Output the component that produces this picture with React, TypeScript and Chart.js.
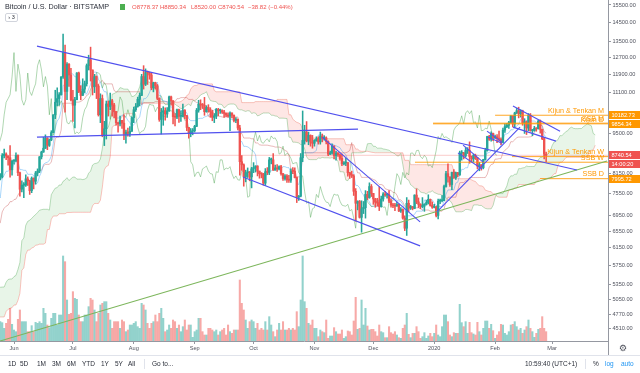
import React, { useEffect, useRef } from 'react';
import { Chart, registerables } from 'chart.js';

Chart.register(...registerables);

const FONT = '"Liberation Sans", Arial, Helvetica, sans-serif';

// ---- Daily candles, BTC/USD Bitstamp: [high, low, close] ----
// look-back days (only used for the Ichimoku windows, left of the visible range)
const mar19 = [
  [3960,3870,3920],[3930,3880,3905],[3920,3850,3870],[3900,3830,3880],[3890,3840,3860],
  [3900,3820,3865],[3930,3860,3915],[4060,3910,4010],[4010,3950,3975],[4030,3950,3980],
  [4030,3970,4015],[4060,3990,4040],[4080,3950,3985],[4010,3970,3995],[4020,3985,4000],
  [4005,3960,3980],[3990,3880,3920],[3950,3900,3940],[4080,3930,4070],[4080,4030,4050],
  [4140,4040,4120],[4150,4080,4110],[4120,4080,4100],
];
const apr19 = [
  [4150,4080,4140],[4950,4130,4880],[5300,4790,4970],[5050,4800,4910],[5060,4900,5030],
  [5220,4980,5050],[5260,5050,5200],[5330,5140,5280],[5280,5160,5190],[5470,5180,5320],
  [5330,4990,5040],[5100,4920,5060],[5130,5040,5070],[5180,5030,5150],[5200,4990,5020],
  [5240,5010,5220],[5280,5200,5240],[5320,5230,5290],[5340,5220,5280],[5350,5270,5320],
  [5330,5200,5260],[5440,5240,5380],[5610,5370,5520],[5620,5380,5420],[5500,5000,5130],
  [5450,5060,5180],[5220,5150,5190],[5220,5140,5170],[5200,5100,5150],[5330,5130,5300],
];
const may19early = [
  [5390,5290,5350],[5480,5340,5460],[5820,5450,5740],[5900,5510,5830],[5830,5630,5740],
  [5750,5580,5700],[6000,5700,5850],[6000,5720,5960],[6170,5950,6150],[6450,6130,6350],
  [7400,6350,7250],[7500,6700,6970],[8100,6900,7800],[8300,7620,7980],[8250,7880,8200],
  [8380,7700,7880],[7950,6600,7350],[7500,7200,7260],[8260,7250,8180],[8200,7600,7960],
  [8040,7830,7950],[8020,7520,7630],[7950,7500,7880],[8150,7820,7990],
];
// visible days (May 25, 2019 -> Feb 27, 2020)
const may19 = [
  [8150,7960,8050],[8800,8020,8730],[8950,8650,8780],[8820,8600,8720],[8720,8420,8660],
  [9070,8040,8270],[8580,8100,8550],
];
const jun19 = [
  [8600,8450,8560],[8820,8530,8740],[8760,8090,8180],[8200,7480,7680],[7930,7600,7800],
  [7880,7440,7800],[8110,7760,7990],[8050,7790,7930],[7950,7530,7640],[8050,7580,8010],
  [8020,7690,7920],[8220,7830,8170],[8300,8080,8230],[8700,8180,8690],[8880,8620,8850],
  [9360,8840,8980],[9450,8970,9330],[9350,8930,9080],[9300,9040,9270],[9600,9240,9530],
  [10200,9530,10200],[11200,10050,10700],[11300,10550,10850],[11100,10580,11010],[11800,10990,11780],
  [13880,11720,12930],[13300,10300,11150],[12450,10800,12370],[12400,11370,11870],[12180,10750,10800],
];
const jul19 = [
  [11200,9950,10580],[10900,9700,10800],[11980,10800,11960],[12000,11100,11150],[11400,10800,10980],
  [11700,10980,11250],[11600,11100,11480],[12380,11380,12300],[12800,12100,12580],[13200,11600,12100],
  [12100,11000,11350],[11900,11100,11800],[11830,10850,11380],[11450,10150,10200],[11050,9900,10850],
  [11000,9380,9430],[9950,9070,9670],[10750,9300,10630],[10750,10150,10530],[11080,10400,10760],
  [10820,10150,10590],[10660,10080,10330],[10330,9800,9900],[9900,9550,9850],[10150,9780,9990],
  [9990,9680,9880],[10200,9280,9480],[9620,9150,9550],[9700,9400,9500],[9750,9390,9580],
  [10120,9570,10090],
];
const aug19 = [
  [10500,9900,10400],[10650,10330,10530],[10910,10500,10820],[11080,10550,10980],[11900,10970,11800],
  [12300,11250,11460],[12150,11400,11980],[12050,11450,11970],[12000,11680,11870],[11950,11220,11300],
  [11550,11130,11530],[11550,11250,11390],[11450,10800,10860],[10880,9950,10020],[10450,9480,10300],
  [10520,9800,10360],[10470,9990,10230],[10480,10100,10350],[10950,10330,10920],[10950,10580,10760],
  [10770,9850,10130],[10250,9780,10110],[10420,10050,10400],[10420,9910,10140],[10350,9950,10140],
  [10620,10120,10370],[10400,10050,10170],[10180,9600,9720],[9720,9330,9490],[9680,9380,9580],
  [9680,9450,9600],
];
const sep19 = [
  [9800,9550,9760],[10450,9750,10380],[10780,10300,10620],[10800,10400,10590],[10650,10450,10580],
  [10900,10180,10320],[10560,10300,10490],[10600,10300,10400],[10480,10100,10320],[10380,9970,10100],
  [10250,9900,10160],[10450,10050,10410],[10450,10170,10360],[10420,10250,10360],[10390,10250,10310],
  [10370,10100,10260],[10280,10130,10190],[10280,10110,10150],[10320,9600,10270],[10280,10080,10180],
  [10200,9930,9980],[10090,9900,10030],[10030,9630,9700],[9800,8100,8530],[8730,8250,8430],
  [8460,7770,8060],[8260,7900,8180],[8330,8030,8200],[8220,7930,8050],[8350,7720,8300],
];
const oct19 = [
  [8500,8180,8340],[8400,8200,8390],[8400,8080,8230],[8230,8010,8150],[8180,8020,8140],
  [8160,7800,7860],[8310,7790,8210],[8340,8120,8190],[8670,8120,8590],[8650,8460,8590],
  [8800,8250,8260],[8420,8260,8330],[8440,8220,8300],[8400,8270,8370],[8410,8100,8150],
  [8160,7940,8000],[8120,7950,8080],[8120,7880,7960],[8100,7880,7950],[8300,7880,8230],
  [8340,8150,8220],[8330,8020,8030],[8050,7300,7450],[7500,7360,7480],[8800,7460,8660],
  [10350,8530,9250],[9800,9120,9550],[9940,9200,9230],[9550,9100,9430],[9450,9050,9190],
  [9430,8980,9150],
];
const nov19 = [
  [9280,9050,9250],[9380,9220,9310],[9380,9120,9200],[9550,9120,9410],[9480,9200,9320],
  [9420,9260,9340],[9380,9130,9210],[9240,8730,8780],[8880,8760,8820],[9120,8780,9050],
  [9070,8620,8730],[8870,8580,8810],[8830,8700,8760],[8790,8580,8640],[8780,8400,8460],
  [8530,8430,8490],[8650,8400,8500],[8500,8070,8180],[8190,8000,8120],[8230,8030,8080],
  [8120,7500,7620],[7700,6800,7280],[7350,7100,7330],[7360,6880,6900],[7350,6520,7130],
  [7330,7000,7160],[7640,6880,7530],[7620,7380,7440],[7870,7420,7760],[7820,7470,7560],
];
const dec19 = [
  [7560,7250,7400],[7420,7170,7310],[7420,7200,7300],[7750,7080,7190],[7480,7170,7400],
  [7580,7340,7540],[7620,7480,7510],[7560,7420,7520],[7640,7300,7340],[7400,7170,7230],
  [7280,7160,7210],[7280,7080,7200],[7310,7200,7250],[7260,7050,7070],[7160,7030,7110],
  [7130,6850,6880],[6940,6560,6620],[7440,6440,7280],[7370,7050,7150],[7220,7110,7190],
  [7190,7100,7140],[7520,7130,7510],[7690,7270,7320],[7430,7160,7250],[7270,7130,7190],
  [7440,7160,7200],[7270,7060,7250],[7360,7230,7300],[7520,7260,7390],[7400,7200,7220],
  [7320,7140,7170],
];
const jan20 = [
  [7250,7150,7180],[7200,6910,6950],[7400,6860,7340],[7400,7270,7350],[7500,7320,7350],
  [7800,7350,7760],[8220,7740,8150],[8460,7890,8050],[8050,7760,7820],[8200,7670,8190],
  [8280,8000,8020],[8200,7970,8180],[8190,8060,8110],[8880,8100,8810],[8900,8580,8820],
  [8840,8620,8720],[9000,8680,8900],[9000,8800,8910],[9200,8480,8700],[8720,8520,8630],
  [8780,8520,8740],[8780,8600,8660],[8660,8300,8390],[8510,8240,8430],[8440,8260,8340],
  [8610,8300,8600],[8980,8580,8900],[9400,8880,9390],[9430,9250,9290],[9560,9220,9500],
  [9510,9240,9350],
];
const feb20 = [
  [9440,9310,9380],[9460,9170,9330],[9590,9220,9290],[9340,9100,9180],[9700,9160,9620],
  [9850,9540,9750],[9870,9710,9800],[9950,9680,9900],[10170,9890,10160],[10150,9740,9850],
  [10300,9720,10270],[10460,10250,10360],[10500,10080,10240],[10400,10110,10360],[10380,9800,9900],
  [10050,9500,9930],[9960,9460,9700],[10250,9600,10180],[10250,9580,9600],[9650,9420,9610],
  [9760,9580,9690],[9700,9580,9670],[9990,9660,9960],[10000,9510,9650],[9660,9280,9310],
  [9360,8620,8778.37],[8850.34,8520,8740.54],
];
const firstOpen = 3930;

// daily volume of the visible days (relative units)
const volume = [
  58,55,38,53,65,98,50,33,28,65, 93,58,58,58,28,28,46,28,56,53,
  58,53,98,83,48,40,68,83,83,48, 78,78,255,238,123,80,83,148,128,125,
  78,58,58,78,78,103,128,123,93,58, 83,108,113,118,118,83,63,38,58,58,
  58,38,63,58,28,33,48,48,53,58, 43,38,113,108,93,53,38,53,58,78,
  58,83,98,68,28,33,48,38,63,58, 38,48,28,43,63,33,48,48,11,28,
  33,68,68,28,18,18,38,38,33,28, 33,18,28,33,38,18,48,28,23,33,
  33,33,183,113,93,63,38,58,63,58, 38,53,33,38,33,58,33,73,48,28,
  13,33,53,33,58,33,33,38,33,38, 33,88,43,123,255,118,98,53,48,63,
  38,38,13,33,28,25,63,8,15,15, 40,28,21,21,33,8,13,30,28,18,
  60,131,35,38,123,48,98,45,33,35, 35,28,15,48,28,25,10,10,43,25,
  21,28,18,10,8,38,48,83,20,10, 23,23,43,28,8,13,25,8,15,23,
  13,23,48,18,13,43,78,78,58,18, 13,25,23,23,110,55,43,58,23,56,
  25,21,18,56,28,18,38,60,60,38, 50,31,8,18,28,50,48,23,18,28,
  48,50,58,43,33,38,23,33,43,63, 38,28,11,23,35,38,73,38,28,
];
const volumeMax = 1023;

// axes (day index 0 = May 25, 2019)
const monthTicks = [7, 37, 68, 99, 129, 160, 190, 221, 252, 281];
const monthLabels = ['Jun', 'Jul', 'Aug', 'Sep', 'Oct', 'Nov', 'Dec', '2020', 'Feb', 'Mar'];
const priceTicks = [4510, 4770, 5050, 5350, 5750, 6150, 6550, 6950, 7550, 8150, 9500, 11100, 11900, 12700, 13500, 14500, 15500];
const xRange = [-0.13, 309.5];
const priceRange = [4307, 15798];

const lastPrice = 8740.54;
const countdown = '14:00:20';

// drawn trend lines [dayA, priceA, dayB, priceB]
const blueLines = [
  [18.7, 13250, 293.7, 8265],
  [18.7, 9368, 182.2, 9657],
  [123.6, 8047, 213.8, 6189],
  [163.9, 9368, 213.8, 6781],
  [222.4, 7044, 264.7, 9731],
  [233.1, 8822, 245.4, 8297],
  [235.7, 9086, 245.9, 8518],
  [247.9, 9583, 255.5, 9190],
  [248.4, 9368, 255.5, 9155],
  [261.1, 10549, 285.1, 9583],
  [261.1, 9731, 283.0, 9226],
];
const greenLine = [-0.13, 4307, 309.0, 8556];

// horizontal levels
const levelLabels = ['Kijun & Tenkan M', 'SSB M', 'Kijun D', 'Kijun & Tenkan W', 'SSB W', 'SSB D'];
const levelPrices = [10182.73, 9880, 9854.34, 8697, 8513, 7995.72];
const levelStart = [252, 220.4, 220.4, 260.6, 211.2, 274.9];
const levelOnAxis = [true, false, true, false, false, true];

const UP = '#26a69a';
const DOWN = '#ef5350';
const ORANGE = '#ff9800';

function midRange(highs: number[], lows: number[], end: number, len: number) {
  let hi = -Infinity, lo = Infinity;
  for (let k = end - len + 1; k <= end; k++) {
    if (highs[k] > hi) hi = highs[k];
    if (lows[k] < lo) lo = lows[k];
  }
  return (hi + lo) / 2;
}

function buildConfig(): any {
  const prefix = [mar19, apr19, may19early];
  const P = prefix.reduce((s, m) => s + m.length, 0);
  const all = [...prefix, may19, jun19, jul19, aug19, sep19, oct19, nov19, dec19, jan20, feb20].flat();
  const highs = all.map((d) => d[0]);
  const lows = all.map((d) => d[1]);
  const closes = all.map((d) => d[2]);
  const opens = closes.map((c, i) => (i === 0 ? firstOpen : closes[i - 1]));
  const N = all.length;

  const wicks: any[] = [], bodies: any[] = [], colors: string[] = [];
  const vols: any[] = [], volColors: string[] = [];
  for (let i = P; i < N; i++) {
    const x = i - P;
    const up = closes[i] >= opens[i];
    colors.push(up ? UP : DOWN);
    wicks.push({ x, y: [lows[i], highs[i]] });
    bodies.push({ x, y: [Math.min(opens[i], closes[i]), Math.max(opens[i], closes[i])] });
    vols.push({ x, y: volume[x] });
    volColors.push(up ? 'rgba(38,166,154,0.5)' : 'rgba(239,83,80,0.5)');
  }

  const tenkan: any[] = [], kijun: any[] = [], spanA: any[] = [], spanB: any[] = [], chikou: any[] = [];
  for (let i = 0; i < N; i++) {
    if (i >= 8 && i - P >= -2) tenkan.push({ x: i - P, y: midRange(highs, lows, i, 9) });
    if (i >= 25 && i - P >= -2) kijun.push({ x: i - P, y: midRange(highs, lows, i, 26) });
    if (i >= 51 && i + 25 - P >= -2) {
      spanA.push({ x: i + 25 - P, y: (midRange(highs, lows, i, 9) + midRange(highs, lows, i, 26)) / 2 });
      spanB.push({ x: i + 25 - P, y: midRange(highs, lows, i, 52) });
    }
    if (i - 25 - P >= -2) chikou.push({ x: i - 25 - P, y: closes[i] });
  }

  const line = (data: any[], color: string, width: number, order: number, extra: any = {}) => ({
    type: 'line', data, borderColor: color, borderWidth: width, pointRadius: 0,
    tension: 0, fill: false, order, ...extra,
  });

  const datasets: any[] = [
    line(spanA, 'rgba(67,160,71,0.35)', 1, 30, {
      fill: { target: 1, above: 'rgba(76,175,80,0.13)', below: 'rgba(244,67,54,0.13)' },
    }),
    line(spanB, 'rgba(244,67,54,0.3)', 1, 30),
    line(chikou, 'rgba(67,160,71,0.42)', 1, 25),
    line(tenkan, 'rgba(33,150,243,0.38)', 1, 25),
    line(kijun, 'rgba(183,28,28,0.3)', 1, 25),
    {
      type: 'bar', data: vols, yAxisID: 'yv', backgroundColor: volColors,
      barThickness: 1.4, grouped: false, borderWidth: 0, order: 20,
    },
    line([{ x: xRange[0], y: lastPrice }, { x: xRange[1], y: lastPrice }], 'rgba(239,83,80,0.3)', 1, 18),
    {
      type: 'bar', data: wicks, backgroundColor: colors, barThickness: 0.9,
      grouped: false, borderWidth: 0, order: 6,
    },
    {
      type: 'bar', data: bodies, backgroundColor: colors, barThickness: 1.7,
      grouped: false, borderWidth: 0, minBarLength: 1, order: 5,
    },
  ];
  levelPrices.forEach((p, k) => {
    datasets.push(line([{ x: levelStart[k], y: p }, { x: xRange[1], y: p }], 'rgba(255,152,0,0.85)', 1, 3));
  });
  blueLines.forEach((t) => {
    datasets.push(line([{ x: t[0], y: t[1] }, { x: t[2], y: t[3] }], '#5151ee', 1.1, 2));
  });
  datasets.push(line([{ x: greenLine[0], y: greenLine[1] }, { x: greenLine[2], y: greenLine[3] }], '#7db65c', 1.1, 2));

  const overlay = {
    id: 'overlay',
    afterDatasetsDraw(chart: any) {
      const { ctx, chartArea, scales } = chart;
      ctx.save();
      ctx.font = `7.2px ${FONT}`;
      ctx.fillStyle = ORANGE;
      ctx.textAlign = 'right';
      ctx.textBaseline = 'alphabetic';
      levelLabels.forEach((lab, k) => {
        const py = scales.y.getPixelForValue(levelPrices[k]);
        ctx.fillText(lab, chartArea.right - 4, py - 2.2);
      });
      ctx.restore();
    },
    afterDraw(chart: any) {
      const { ctx, chartArea, scales } = chart;
      const box = (text: string, py: number, color: string) => {
        ctx.fillStyle = color;
        ctx.fillRect(chartArea.right + 1, Math.round(py) - 4, 31, 8);
        ctx.fillStyle = '#ffffff';
        ctx.textAlign = 'left';
        ctx.textBaseline = 'middle';
        ctx.fillText(text, chartArea.right + 3.5, Math.round(py) + 0.3);
      };
      ctx.save();
      ctx.font = `5.6px ${FONT}`;
      levelPrices.forEach((p, k) => {
        if (levelOnAxis[k]) box(p.toFixed(2), scales.y.getPixelForValue(p), ORANGE);
      });
      const lp = scales.y.getPixelForValue(lastPrice);
      box(lastPrice.toFixed(2), lp, DOWN);
      box(countdown, lp + 9, DOWN);
      ctx.fillStyle = '#9598a1';
      ctx.fillRect(chartArea.right, chartArea.bottom, 1, chart.height - chartArea.bottom);
      ctx.restore();
    },
  };

  const tickFont = { family: FONT, size: 5.6 };
  return {
    type: 'bar',
    data: { datasets },
    options: {
      animation: false,
      responsive: false,
      devicePixelRatio: 1,
      events: [],
      layout: { padding: 0 },
      plugins: { legend: { display: false }, tooltip: { enabled: false } },
      scales: {
        x: {
          type: 'linear', min: xRange[0], max: xRange[1], offset: false, position: 'bottom',
          grid: { display: true, drawOnChartArea: false, drawTicks: true, tickLength: 3, color: '#9598a1', offset: false },
          border: { display: true, color: '#9598a1' },
          ticks: {
            autoSkip: false, maxRotation: 0, padding: 1, font: tickFont, color: '#50535e',
            callback: (_v: any, i: number) => monthLabels[i] ?? '',
          },
          afterBuildTicks: (s: any) => { s.ticks = monthTicks.map((v) => ({ value: v })); },
          afterFit: (s: any) => { s.height = 14; s.paddingLeft = 0; s.paddingRight = 0; },
        },
        y: {
          type: 'logarithmic', position: 'right', min: priceRange[0], max: priceRange[1],
          grid: { drawOnChartArea: false, drawTicks: true, tickLength: 3, color: '#9598a1' },
          border: { display: true, color: '#9598a1' },
          ticks: {
            autoSkip: false, padding: 1.5, font: tickFont, color: '#50535e',
            callback: (v: any) => Number(v).toFixed(2),
          },
          afterBuildTicks: (s: any) => { s.ticks = priceTicks.map((v) => ({ value: v })); },
          afterFit: (s: any) => { s.width = 32; s.paddingTop = 0; s.paddingBottom = 0; },
        },
        yv: { type: 'linear', display: false, min: 0, max: volumeMax },
      },
    },
    plugins: [overlay],
  };
}

const rangeButtons = ['1D', '5D', '1M', '3M', '6M', 'YTD', '1Y', '5Y', 'All'];
const rangeX = [8, 20, 37, 52, 67, 82, 101, 115, 128];

export default function App() {
  const ref = useRef<HTMLCanvasElement>(null);
  useEffect(() => {
    document.body.style.margin = '0';
    const chart = new Chart(ref.current as HTMLCanvasElement, buildConfig());
    return () => chart.destroy();
  }, []);

  const txt = (extra: any) => ({
    position: 'absolute', whiteSpace: 'nowrap', lineHeight: '10px', ...extra,
  });

  return (
    <div style={{ position: 'fixed', left: 0, top: 0, width: 640, height: 373, overflow: 'hidden', background: '#ffffff', fontFamily: FONT }}>
      <canvas ref={ref} width={640} height={355} style={{ position: 'absolute', left: 0, top: 0, width: 640, height: 355 }} />
      {/* header */}
      <div style={txt({ left: 5, top: 2, fontSize: 7.2, color: '#2a2e39' })}>Bitcoin / U.S. Dollar · BITSTAMP</div>
      <div style={{ position: 'absolute', left: 120, top: 4, width: 5, height: 6, background: '#4caf50' }} />
      <div style={txt({ left: 132, top: 2, fontSize: 6, color: DOWN })}>O8778.37</div>
      <div style={txt({ left: 160, top: 2, fontSize: 6, color: DOWN })}>H8850.34</div>
      <div style={txt({ left: 191, top: 2, fontSize: 6, color: DOWN })}>L8520.00</div>
      <div style={txt({ left: 218, top: 2, fontSize: 6, color: DOWN })}>C8740.54</div>
      <div style={txt({ left: 248, top: 2, fontSize: 6, color: DOWN })}>−38.82 (−0.44%)</div>
      <div style={{ position: 'absolute', left: 5, top: 13, width: 11, height: 7, border: '1px solid #d1d4dc', borderRadius: 2, fontSize: 5.5, lineHeight: '7px', color: '#2a2e39', textAlign: 'center', background: '#fff' }}>› 3</div>
      {/* gear */}
      <div style={txt({ left: 619, top: 343, fontSize: 9, color: '#50535e', fontFamily: '"DejaVu Sans", sans-serif' })}>⚙</div>
      {/* toolbar */}
      <div style={{ position: 'absolute', left: 0, top: 355, width: 640, height: 1, background: '#e0e3eb' }} />
      {rangeButtons.map((b, i) => (
        <div key={b} style={txt({ left: rangeX[i], top: 359, fontSize: 6.5, color: '#2a2e39' })}>{b}</div>
      ))}
      <div style={{ position: 'absolute', left: 144, top: 359, width: 1, height: 10, background: '#e0e3eb' }} />
      <div style={txt({ left: 152, top: 359, fontSize: 6.5, color: '#2a2e39' })}>Go to...</div>
      <div style={txt({ left: 525, top: 359, fontSize: 6.5, color: '#2a2e39' })}>10:59:40 (UTC+1)</div>
      <div style={{ position: 'absolute', left: 585, top: 359, width: 1, height: 10, background: '#e0e3eb' }} />
      <div style={txt({ left: 593, top: 359, fontSize: 6.5, color: '#2a2e39' })}>%</div>
      <div style={txt({ left: 605, top: 359, fontSize: 6.5, color: '#2196f3' })}>log</div>
      <div style={txt({ left: 621, top: 359, fontSize: 6.5, color: '#2196f3' })}>auto</div>
    </div>
  );
}
